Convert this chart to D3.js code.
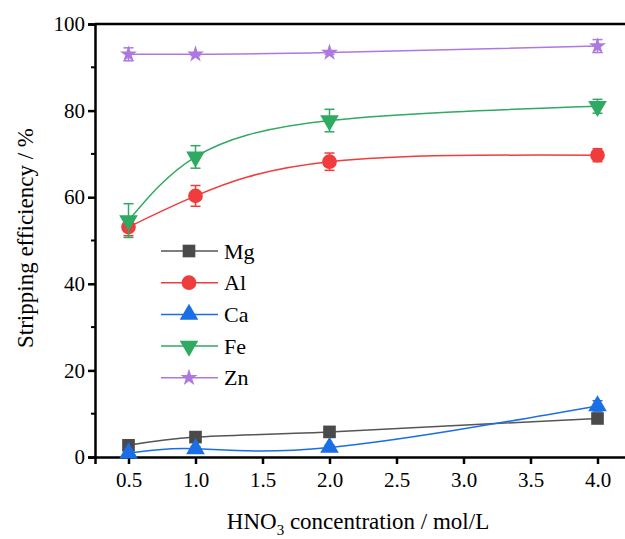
<!DOCTYPE html>
<html lang="en">

<head>
  <meta charset="UTF-8">
  <title>Stripping efficiency vs HNO3 concentration</title>
  <style>
    * {
      margin: 0;
      padding: 0;
      box-sizing: border-box;
    }

    body {
      background-color: white;
      width: 625px;
      height: 539px;
      overflow: hidden;
    }

    svg text {
      font-family: "Liberation Serif", "Tinos", "Times New Roman", "DejaVu Serif", serif !important;
      fill: black;
    }
  </style>
  <script src="https://cdnjs.cloudflare.com/ajax/libs/d3/7.8.5/d3.min.js"></script>
</head>

<body>
  <svg id="chart" width="625" height="539"></svg>

  <script>
    // concentrations (mol/L)
    const concentrations = [0.5, 1.0, 2.0, 4.0];
    const xTicks = [0.5, 1.0, 1.5, 2.0, 2.5, 3.0, 3.5, 4.0];
    const yTicks = [0, 20, 40, 60, 80, 100];

    const elements = ['Mg', 'Al', 'Ca', 'Fe', 'Zn'];
    const mgValues = [2.7, 4.6, 5.8, 8.9];
    const alValues = [53.1, 60.3, 68.2, 69.7];
    const caValues = [0.9, 1.9, 2.2, 11.8];
    const feValues = [54.6, 69.3, 77.7, 81.0];
    const znValues = [93.0, 93.0, 93.4, 94.9];

    const mgErrors = [0.3, 0.4, 0.4, 0.5];
    const alErrors = [2.0, 2.4, 2.0, 1.5];
    const caErrors = [0.4, 0.5, 0.5, 1.2];
    const feErrors = [3.9, 2.6, 2.6, 1.6];
    const znErrors = [1.5, 0.3, 0.4, 1.5];

    const series = [
      { name: 'Mg', values: mgValues, errors: mgErrors, color: '#4a4a4a', line: '#555555', symbol: d3.symbolSquare, size: 160, rot: 0 },
      { name: 'Al', values: alValues, errors: alErrors, color: '#f03c3c', line: '#f03c3c', symbol: d3.symbolCircle, size: 170, rot: 0 },
      { name: 'Ca', values: caValues, errors: caErrors, color: '#1a6ee6', line: '#1a6ee6', symbol: d3.symbolTriangle, size: 150, rot: 0 },
      { name: 'Fe', values: feValues, errors: feErrors, color: '#2eaa62', line: '#2eaa62', symbol: d3.symbolTriangle, size: 150, rot: 180 },
      { name: 'Zn', values: znValues, errors: znErrors, color: '#ad78e0', line: '#ad78e0', symbol: d3.symbolStar, size: 90, rot: 0 }
    ];

    const margin = { top: 24, left: 95 };
    const plotW = 631 - margin.left;
    const plotH = 457 - margin.top;

    const svg = d3.select('#chart');

    const x = d3.scaleLinear().domain([0.25, 4.25]).range([margin.left, margin.left + plotW]);
    const y = d3.scaleLinear().domain([0, 100]).range([margin.top + plotH, margin.top]);

    // axes
    const xAxis = d3.axisBottom(x).tickValues(xTicks).tickFormat(d3.format('.1f')).tickSize(7).tickPadding(8);
    const yAxis = d3.axisLeft(y).tickValues(yTicks).tickSize(7).tickPadding(3);

    const gx = svg.append('g')
      .attr('transform', `translate(0,${y(0)})`)
      .call(xAxis);
    const gy = svg.append('g')
      .attr('transform', `translate(${x(0.25)},0)`)
      .call(yAxis);

    [gx, gy].forEach(g => {
      g.attr('font-family', null);
      g.select('.domain').attr('stroke', 'black').attr('stroke-width', 2.5);
      g.selectAll('.tick line').attr('stroke', 'black').attr('stroke-width', 2.5);
      g.selectAll('.tick text').style('font-size', '21px');
    });

    // minor y ticks
    svg.append('g')
      .selectAll('line')
      .data([10, 30, 50, 70, 90])
      .enter()
      .append('line')
      .attr('x1', x(0.25) - 4)
      .attr('x2', x(0.25))
      .attr('y1', d => y(d))
      .attr('y2', d => y(d))
      .attr('stroke', 'black')
      .attr('stroke-width', 2);

    // top frame
    svg.append('line')
      .attr('x1', x(0.25))
      .attr('x2', x(4.25))
      .attr('y1', y(100))
      .attr('y2', y(100))
      .attr('stroke', 'black')
      .attr('stroke-width', 2.5);

    // axis titles
    const xTitle = svg.append('text')
      .attr('x', 358)
      .attr('y', 529)
      .attr('text-anchor', 'middle')
      .style('font-size', '23px');
    xTitle.append('tspan').text('HNO');
    xTitle.append('tspan').text('3').attr('dy', 6).style('font-size', '15px');
    xTitle.append('tspan').text(' concentration / mol/L').attr('dy', -6);

    svg.append('text')
      .attr('transform', 'translate(33,238) rotate(-90)')
      .attr('text-anchor', 'middle')
      .style('font-size', '23px')
      .text('Stripping efficiency / %');

    // curves
    const line = d3.line()
      .x((d, i) => x(concentrations[i]))
      .y(d => y(d))
      .curve(d3.curveNatural);

    series.forEach(s => {
      const g = svg.append('g');

      g.append('path')
        .attr('d', line(s.values))
        .attr('fill', 'none')
        .attr('stroke', s.line)
        .attr('stroke-width', 1.5);

      // error bars
      s.values.forEach((v, i) => {
        const cx = x(concentrations[i]);
        const top = y(v + s.errors[i]);
        const bot = y(v - s.errors[i]);
        g.append('line').attr('x1', cx).attr('x2', cx).attr('y1', top).attr('y2', bot)
          .attr('stroke', s.color).attr('stroke-width', 1.5);
        [top, bot].forEach(yy => {
          g.append('line').attr('x1', cx - 5).attr('x2', cx + 5).attr('y1', yy).attr('y2', yy)
            .attr('stroke', s.color).attr('stroke-width', 1.5);
        });
      });

      g.selectAll('.marker')
        .data(s.values)
        .enter()
        .append('path')
        .attr('d', d3.symbol().type(s.symbol).size(s.size))
        .attr('transform', (d, i) => `translate(${x(concentrations[i])},${y(d)}) rotate(${s.rot})`)
        .attr('fill', s.color);
    });

    // legend
    const legend = svg.append('g');
    series.forEach((s, i) => {
      const ly = 251 + i * 31.7;
      legend.append('line')
        .attr('x1', 161).attr('x2', 218).attr('y1', ly).attr('y2', ly)
        .attr('stroke', s.line).attr('stroke-width', 1.5);
      legend.append('path')
        .attr('d', d3.symbol().type(s.symbol).size(s.size))
        .attr('transform', `translate(189,${ly}) rotate(${s.rot})`)
        .attr('fill', s.color);
      legend.append('text')
        .attr('x', 224)
        .attr('y', ly + 7.5)
        .style('font-size', '22px')
        .text(elements[i]);
    });
  </script>
</body>

</html>
